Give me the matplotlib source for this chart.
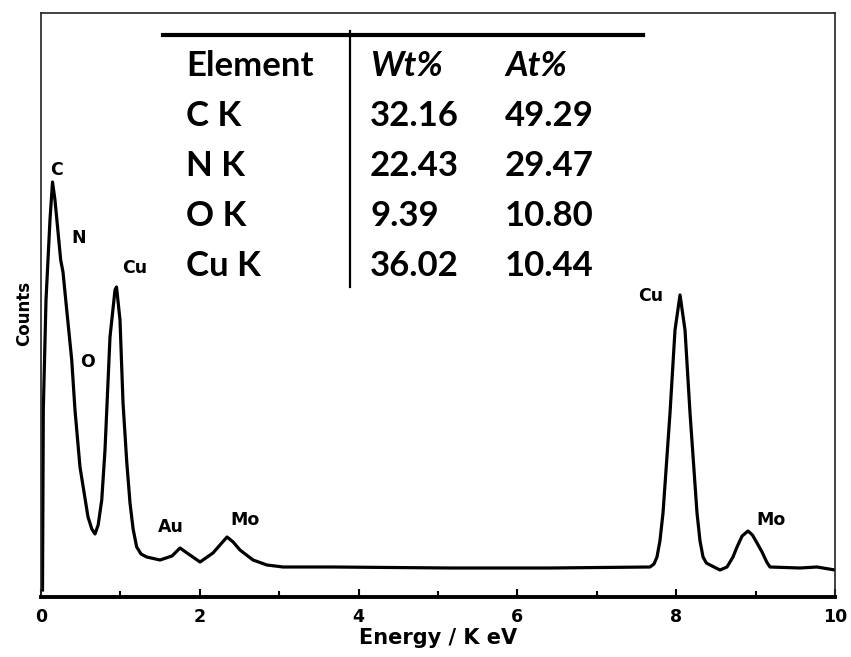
import matplotlib
import matplotlib.pyplot as plt

matplotlib.rcParams['font.family'] = 'DejaVu Sans'
matplotlib.rcParams['font.weight'] = 'bold'

# EDS spectrum (energy in keV, counts in arbitrary units)
energy = [0.019, 0.029, 0.063, 0.113, 0.145, 0.176, 0.248, 0.277, 0.324, 0.387,
          0.428, 0.491, 0.592, 0.640, 0.680, 0.720, 0.765, 0.806, 0.869, 0.932, 0.951, 0.995,
          1.033, 1.080, 1.121, 1.160, 1.205, 1.260, 1.331, 1.499, 1.650, 1.751, 1.839, 2.003, 2.166,
          2.254, 2.343, 2.420, 2.506, 2.670, 2.846, 3.048, 3.678, 5.151, 6.411, 7.670,
          7.720, 7.758, 7.795, 7.834, 7.922, 7.985, 8.048, 8.111, 8.174, 8.262, 8.300, 8.338, 8.380, 8.426,
          8.552, 8.640, 8.715, 8.766, 8.830, 8.904, 8.960, 9.018, 9.081, 9.140, 9.181, 9.559, 9.773, 10.0]
counts = [70, 1870, 2970, 3770, 4150, 3970, 3370, 3250, 2870, 2370,
          1870, 1300, 800, 680, 630, 720, 970, 1470, 2600, 3070, 3100, 2770,
          1940, 1350, 940, 680, 500, 430, 400, 370, 410, 490, 440, 350, 440,
          520, 600, 550, 470, 370, 320, 300, 300, 290, 290, 300,
          330, 400, 560, 840, 1840, 2670, 3020, 2670, 1840, 840, 560, 400, 340, 320,
          270, 300, 400, 500, 610, 660, 620, 540, 450, 350, 300, 290, 300, 270]

# peak labels
peak_names = ['C', 'N', 'Cu', 'O', 'Au', 'Mo', 'Cu', 'Mo']
peak_x = [0.2, 0.47, 1.18, 0.59, 1.64, 2.57, 7.68, 9.19]
peak_y = [4270, 3590, 3290, 2350, 700, 770, 3010, 770]

# composition table
elements = ['C K', 'N K', 'O K', 'Cu K']
wt_pct = ['32.16', '22.43', '9.39', '36.02']
at_pct = ['49.29', '29.47', '10.80', '10.44']

W, H = 851, 657
fig = plt.figure(figsize=(W / 100, H / 100), dpi=100)
ax = fig.add_axes([41 / W, 1 - 597 / H, 794 / W, 584 / H])

ax.plot(energy, counts, color='black', lw=2.3, solid_joinstyle='round')
ax.set_xlim(0, 10)
ax.set_ylim(0, 5840)
ax.set_yticks([])
ax.set_xticks([0, 2, 4, 6, 8, 10])
ax.set_xticks([1, 3, 5, 7, 9], minor=True)
ax.tick_params(axis='x', which='major', direction='in', length=6, width=1.5, pad=8, labelsize=12.5)
ax.tick_params(axis='x', which='minor', direction='in', length=4, width=1.5)

for s in ['left', 'top', 'right']:
    ax.spines[s].set_linewidth(1.2)
    ax.spines[s].set_color('#222222')
ax.spines['bottom'].set_linewidth(2.8)

ax.set_xlabel('Energy / K eV', fontsize=15, fontweight='bold', labelpad=1)
ax.set_ylabel('Counts', fontsize=12, fontweight='bold')
ax.yaxis.set_label_coords(-0.010, 0.485)

for name, x, y in zip(peak_names, peak_x, peak_y):
    ax.text(x, y, name, fontsize=12.5, fontweight='bold', ha='center', va='center')

# table drawn in figure pixel coordinates
def fx(px):
    return px / W

def fy(py):
    return 1 - py / H

fig.add_artist(plt.Line2D([fx(163), fx(643)], [fy(35), fy(35)], color='black', lw=3))
fig.add_artist(plt.Line2D([fx(350), fx(350)], [fy(31), fy(287)], color='black', lw=1.6))

tfont = dict(family=['Lato', 'DejaVu Sans'], fontweight='bold', fontsize=25, va='baseline', ha='left')
fig.text(fx(186), fy(76), 'Element', **tfont)
fig.text(fx(370), fy(76), 'Wt%', style='italic', **tfont)
fig.text(fx(505), fy(76), 'At%', style='italic', **tfont)
for i in range(len(elements)):
    base = fy(126 + 50 * i)
    fig.text(fx(186), base, elements[i], **tfont)
    fig.text(fx(370), base, wt_pct[i], **tfont)
    fig.text(fx(505), base, at_pct[i], **tfont)

fig.savefig('out.png', dpi=100)
